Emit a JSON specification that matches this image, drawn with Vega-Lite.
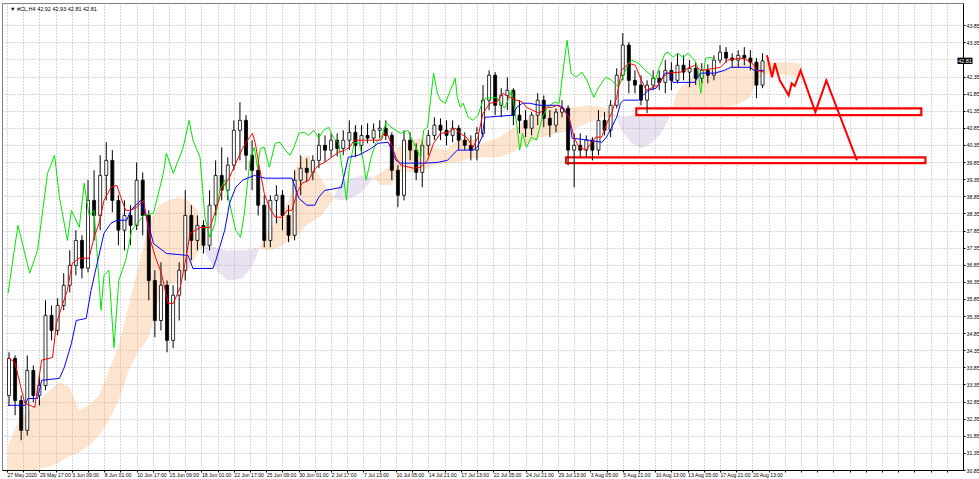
{
"$schema":"https://vega.github.io/schema/vega-lite/v6.json",
"width":961,"height":467,
"autosize":{"type":"none"},
"padding":{"left":2,"top":3,"right":16,"bottom":9},
"background":"white",
"config":{"view":{"stroke":"#808080"},"font":"Liberation Sans",
 "axis":{"grid":true,"gridDash":[1,2],"gridColor":"#b0b0b0","gridOpacity":1,"tickSize":2,"tickColor":"#000000","labelFontSize":5.3,"labelColor":"#000000","domainColor":"#000000","labelOverlap":false,"labelBound":false,"labelFlush":false,"title":null,"tickCount":200}},
"datasets":{
"candles":[
{"t":1,"o":33.03,"h":34.29,"l":32.74,"c":34.11},{"t":4,"o":34.11,"h":34.20,"l":32.45,"c":32.88},{"t":7,"o":32.88,"h":33.03,"l":31.72,"c":32.01},{"t":10,"o":32.01,"h":34.20,"l":31.86,"c":33.76},{"t":13,"o":33.76,"h":33.91,"l":32.83,"c":33.03},{"t":16,"o":33.03,"h":33.62,"l":32.74,"c":33.32},{"t":19,"o":33.32,"h":35.81,"l":33.18,"c":35.37},{"t":22,"o":35.37,"h":35.66,"l":34.64,"c":34.93},{"t":25,"o":34.93,"h":35.87,"l":34.79,"c":35.66},{"t":28,"o":35.66,"h":36.60,"l":35.52,"c":36.25},{"t":31,"o":36.25,"h":37.27,"l":36.04,"c":36.83},{"t":34,"o":36.83,"h":37.86,"l":36.54,"c":37.56},{"t":37,"o":37.56,"h":37.71,"l":36.45,"c":36.75},{"t":40,"o":36.75,"h":39.32,"l":36.63,"c":38.73},{"t":43,"o":38.73,"h":39.61,"l":37.56,"c":38.29},{"t":46,"o":38.29,"h":40.05,"l":37.86,"c":39.46},{"t":49,"o":39.46,"h":40.43,"l":38.73,"c":39.90},{"t":52,"o":39.90,"h":40.20,"l":38.38,"c":38.73},{"t":55,"o":38.73,"h":38.88,"l":37.42,"c":37.86},{"t":58,"o":37.86,"h":38.73,"l":37.27,"c":38.29},{"t":61,"o":38.29,"h":38.59,"l":37.42,"c":38.00},{"t":64,"o":38.00,"h":39.84,"l":37.86,"c":39.32},{"t":67,"o":39.32,"h":39.55,"l":37.71,"c":38.29},{"t":70,"o":38.29,"h":38.44,"l":35.81,"c":36.39},{"t":73,"o":36.39,"h":36.69,"l":34.73,"c":35.22},{"t":76,"o":35.22,"h":36.92,"l":34.93,"c":36.25},{"t":79,"o":36.25,"h":36.39,"l":34.29,"c":34.64},{"t":82,"o":34.64,"h":36.25,"l":34.41,"c":35.96},{"t":85,"o":35.96,"h":36.92,"l":35.22,"c":36.69},{"t":88,"o":36.69,"h":39.03,"l":36.39,"c":38.29},{"t":91,"o":38.29,"h":38.59,"l":36.98,"c":37.56},{"t":94,"o":37.56,"h":38.29,"l":37.27,"c":38.00},{"t":97,"o":38.00,"h":38.15,"l":37.18,"c":37.42},{"t":100,"o":37.42,"h":39.03,"l":37.27,"c":38.59},{"t":103,"o":38.59,"h":39.90,"l":38.29,"c":39.46},{"t":106,"o":39.46,"h":40.28,"l":38.73,"c":39.03},{"t":109,"o":39.03,"h":39.99,"l":38.73,"c":39.76},{"t":112,"o":39.76,"h":41.07,"l":39.61,"c":40.78},{"t":115,"o":40.78,"h":41.60,"l":39.90,"c":41.07},{"t":118,"o":41.07,"h":41.22,"l":39.61,"c":40.05},{"t":121,"o":40.05,"h":40.49,"l":39.03,"c":39.61},{"t":124,"o":39.61,"h":39.76,"l":38.29,"c":38.59},{"t":127,"o":38.59,"h":38.88,"l":37.36,"c":37.56},{"t":130,"o":37.56,"h":38.88,"l":37.36,"c":38.73},{"t":133,"o":38.73,"h":39.17,"l":38.06,"c":38.88},{"t":136,"o":38.88,"h":39.03,"l":37.86,"c":38.29},{"t":139,"o":38.29,"h":38.59,"l":37.51,"c":37.71},{"t":142,"o":37.71,"h":39.61,"l":37.56,"c":39.32},{"t":145,"o":39.32,"h":40.05,"l":38.88,"c":39.67},{"t":148,"o":39.67,"h":39.96,"l":39.26,"c":39.55},{"t":151,"o":39.55,"h":40.05,"l":39.32,"c":39.90},{"t":154,"o":39.90,"h":40.69,"l":39.67,"c":40.34},{"t":157,"o":40.34,"h":40.63,"l":39.84,"c":40.20},{"t":160,"o":40.20,"h":40.69,"l":39.99,"c":40.49},{"t":163,"o":40.49,"h":40.69,"l":40.02,"c":40.25},{"t":166,"o":40.25,"h":40.78,"l":40.05,"c":40.49},{"t":169,"o":40.49,"h":41.07,"l":40.20,"c":40.72},{"t":172,"o":40.72,"h":40.93,"l":39.99,"c":40.34},{"t":175,"o":40.34,"h":40.93,"l":40.05,"c":40.63},{"t":178,"o":40.63,"h":40.98,"l":40.40,"c":40.55},{"t":181,"o":40.55,"h":40.98,"l":40.40,"c":40.78},{"t":184,"o":40.78,"h":41.07,"l":40.55,"c":40.84},{"t":187,"o":40.84,"h":41.07,"l":40.49,"c":40.63},{"t":190,"o":40.63,"h":40.72,"l":39.32,"c":39.61},{"t":193,"o":39.61,"h":39.76,"l":38.53,"c":38.88},{"t":196,"o":38.88,"h":40.78,"l":38.73,"c":40.49},{"t":199,"o":40.49,"h":40.72,"l":39.90,"c":40.20},{"t":202,"o":40.20,"h":40.40,"l":39.32,"c":39.55},{"t":205,"o":39.55,"h":40.49,"l":39.11,"c":40.34},{"t":208,"o":40.34,"h":40.78,"l":40.05,"c":40.63},{"t":211,"o":40.63,"h":41.16,"l":40.49,"c":40.93},{"t":214,"o":40.93,"h":41.13,"l":40.49,"c":40.78},{"t":217,"o":40.78,"h":41.07,"l":40.34,"c":40.63},{"t":220,"o":40.63,"h":41.07,"l":40.43,"c":40.84},{"t":223,"o":40.84,"h":40.93,"l":40.20,"c":40.49},{"t":226,"o":40.49,"h":40.72,"l":40.20,"c":40.34},{"t":229,"o":40.34,"h":40.63,"l":39.90,"c":40.20},{"t":232,"o":40.20,"h":40.87,"l":39.90,"c":40.69},{"t":235,"o":40.69,"h":42.10,"l":40.58,"c":41.66},{"t":238,"o":41.66,"h":42.53,"l":41.37,"c":42.39},{"t":241,"o":42.39,"h":42.48,"l":41.22,"c":41.51},{"t":244,"o":41.51,"h":42.01,"l":41.16,"c":41.80},{"t":247,"o":41.80,"h":42.33,"l":41.37,"c":41.95},{"t":250,"o":41.95,"h":42.01,"l":40.93,"c":41.22},{"t":253,"o":41.22,"h":41.66,"l":40.69,"c":41.07},{"t":256,"o":41.07,"h":41.37,"l":40.58,"c":40.84},{"t":259,"o":40.84,"h":41.31,"l":40.63,"c":41.22},{"t":262,"o":41.22,"h":41.86,"l":40.93,"c":41.66},{"t":265,"o":41.66,"h":41.80,"l":40.87,"c":41.13},{"t":268,"o":41.13,"h":41.37,"l":40.58,"c":40.93},{"t":271,"o":40.93,"h":41.42,"l":40.72,"c":41.31},{"t":274,"o":41.31,"h":41.66,"l":41.16,"c":41.42},{"t":277,"o":41.42,"h":41.51,"l":39.76,"c":40.20},{"t":280,"o":40.20,"h":40.69,"l":39.11,"c":40.34},{"t":283,"o":40.34,"h":40.69,"l":39.99,"c":40.20},{"t":286,"o":40.20,"h":40.63,"l":39.99,"c":40.49},{"t":289,"o":40.49,"h":40.58,"l":39.90,"c":40.20},{"t":292,"o":40.20,"h":41.37,"l":40.05,"c":41.07},{"t":295,"o":41.07,"h":41.31,"l":40.63,"c":40.78},{"t":298,"o":40.78,"h":41.66,"l":40.58,"c":41.51},{"t":301,"o":41.51,"h":42.59,"l":41.42,"c":42.39},{"t":304,"o":42.39,"h":43.62,"l":42.24,"c":43.27},{"t":307,"o":43.27,"h":43.35,"l":41.86,"c":42.24},{"t":310,"o":42.24,"h":42.53,"l":41.86,"c":42.10},{"t":313,"o":42.10,"h":42.39,"l":41.51,"c":41.66},{"t":316,"o":41.66,"h":42.24,"l":41.28,"c":42.10},{"t":319,"o":42.10,"h":42.53,"l":41.95,"c":42.30},{"t":322,"o":42.30,"h":42.53,"l":41.95,"c":42.18},{"t":325,"o":42.18,"h":42.83,"l":41.86,"c":42.53},{"t":328,"o":42.53,"h":42.77,"l":41.95,"c":42.24},{"t":331,"o":42.24,"h":43.03,"l":42.15,"c":42.68},{"t":334,"o":42.68,"h":42.97,"l":42.24,"c":42.48},{"t":337,"o":42.48,"h":42.83,"l":42.04,"c":42.59},{"t":340,"o":42.59,"h":42.77,"l":42.10,"c":42.30},{"t":343,"o":42.30,"h":42.74,"l":42.15,"c":42.53},{"t":346,"o":42.53,"h":42.71,"l":42.15,"c":42.39},{"t":349,"o":42.39,"h":42.97,"l":42.24,"c":42.83},{"t":352,"o":42.83,"h":43.27,"l":42.74,"c":43.06},{"t":355,"o":43.06,"h":43.21,"l":42.74,"c":42.89},{"t":358,"o":42.89,"h":43.03,"l":42.62,"c":42.83},{"t":361,"o":42.83,"h":43.12,"l":42.62,"c":42.97},{"t":364,"o":42.97,"h":43.21,"l":42.68,"c":42.89},{"t":367,"o":42.89,"h":43.12,"l":42.53,"c":42.77},{"t":370,"o":42.77,"h":42.89,"l":41.72,"c":42.10},{"t":373,"o":42.10,"h":43.03,"l":42.01,"c":42.81}
],
"tenkan":[
{"t":0.5,"v":34.14},{"t":3.9,"v":33.99},{"t":8.8,"v":32.80},{"t":13.7,"v":32.68},{"t":17.1,"v":34.06},{"t":22.5,"v":34.14},{"t":24.4,"v":35.14},{"t":26.9,"v":35.60},{"t":29.8,"v":36.10},{"t":32.2,"v":36.89},{"t":35.7,"v":37.04},{"t":40.5,"v":37.04},{"t":43.0,"v":37.65},{"t":45.4,"v":38.06},{"t":47.9,"v":38.73},{"t":51.3,"v":39.11},{"t":54.2,"v":39.17},{"t":56.2,"v":38.82},{"t":58.6,"v":38.44},{"t":61.1,"v":38.44},{"t":64.0,"v":38.53},{"t":67.4,"v":38.73},{"t":70.8,"v":37.56},{"t":73.3,"v":37.07},{"t":76.2,"v":36.60},{"t":79.6,"v":35.72},{"t":82.1,"v":35.72},{"t":85.5,"v":36.19},{"t":87.9,"v":36.89},{"t":90.4,"v":37.77},{"t":93.3,"v":37.86},{"t":95.3,"v":37.94},{"t":100.2,"v":37.94},{"t":103.1,"v":38.44},{"t":106.5,"v":39.11},{"t":109.9,"v":39.41},{"t":112.9,"v":39.81},{"t":116.3,"v":40.25},{"t":119.7,"v":40.57},{"t":121.2,"v":40.69},{"t":122.6,"v":40.40},{"t":124.6,"v":39.70},{"t":127.0,"v":38.94},{"t":129.5,"v":38.53},{"t":132.4,"v":38.24},{"t":135.8,"v":38.24},{"t":138.3,"v":38.44},{"t":140.7,"v":38.44},{"t":143.1,"v":38.94},{"t":145.6,"v":39.23},{"t":149.0,"v":39.32},{"t":151.4,"v":39.61},{"t":153.9,"v":39.76},{"t":156.8,"v":39.84},{"t":160.2,"v":39.99},{"t":163.7,"v":40.14},{"t":166.6,"v":40.19},{"t":169.0,"v":40.28},{"t":171.5,"v":40.49},{"t":184.7,"v":40.49},{"t":186.1,"v":40.69},{"t":188.1,"v":40.63},{"t":189.6,"v":40.40},{"t":192.0,"v":39.99},{"t":194.4,"v":39.76},{"t":200.8,"v":39.67},{"t":204.2,"v":39.70},{"t":207.6,"v":39.90},{"t":210.6,"v":40.40},{"t":214.0,"v":40.69},{"t":217.9,"v":40.72},{"t":221.3,"v":40.84},{"t":223.8,"v":40.69},{"t":227.2,"v":40.55},{"t":230.1,"v":40.28},{"t":232.5,"v":40.58},{"t":235.0,"v":41.28},{"t":238.4,"v":41.57},{"t":241.8,"v":41.60},{"t":244.8,"v":41.86},{"t":248.2,"v":41.74},{"t":251.6,"v":41.66},{"t":254.5,"v":41.60},{"t":256.5,"v":41.45},{"t":259.4,"v":41.37},{"t":262.8,"v":41.28},{"t":266.3,"v":41.45},{"t":269.2,"v":41.45},{"t":271.6,"v":41.51},{"t":274.1,"v":41.42},{"t":277.5,"v":41.16},{"t":279.9,"v":40.58},{"t":282.4,"v":40.28},{"t":285.8,"v":40.20},{"t":290.7,"v":40.58},{"t":293.6,"v":40.58},{"t":296.1,"v":40.98},{"t":298.5,"v":41.28},{"t":301.0,"v":41.74},{"t":303.4,"v":42.53},{"t":306.8,"v":42.74},{"t":310.2,"v":42.68},{"t":313.2,"v":42.24},{"t":315.6,"v":41.95},{"t":318.0,"v":42.01},{"t":321.5,"v":42.10},{"t":323.9,"v":42.33},{"t":326.4,"v":42.45},{"t":332.7,"v":42.48},{"t":336.2,"v":42.59},{"t":339.5,"v":42.68},{"t":342.5,"v":42.53},{"t":349.4,"v":42.59},{"t":352.2,"v":42.62},{"t":355.7,"v":42.83},{"t":362.0,"v":42.89},{"t":365.4,"v":42.83},{"t":367.9,"v":42.74},{"t":370.3,"v":42.53},{"t":373.7,"v":42.48}
],
"kijun":[
{"t":0.5,"v":32.74},{"t":8.8,"v":32.74},{"t":10.3,"v":32.94},{"t":15.1,"v":32.94},{"t":17.1,"v":33.47},{"t":25.9,"v":33.53},{"t":28.3,"v":33.85},{"t":31.8,"v":34.55},{"t":34.2,"v":35.22},{"t":39.1,"v":35.28},{"t":41.5,"v":36.10},{"t":44.5,"v":36.89},{"t":47.9,"v":37.77},{"t":51.3,"v":38.06},{"t":54.2,"v":38.15},{"t":59.1,"v":38.15},{"t":61.1,"v":38.44},{"t":66.0,"v":38.73},{"t":68.9,"v":38.24},{"t":72.3,"v":37.47},{"t":78.7,"v":37.18},{"t":89.4,"v":37.12},{"t":91.8,"v":36.74},{"t":101.6,"v":36.74},{"t":103.1,"v":36.98},{"t":105.0,"v":37.36},{"t":107.5,"v":37.86},{"t":109.9,"v":38.65},{"t":112.9,"v":39.11},{"t":116.3,"v":39.32},{"t":122.1,"v":39.46},{"t":127.5,"v":39.38},{"t":140.7,"v":39.38},{"t":144.1,"v":38.79},{"t":148.0,"v":38.59},{"t":151.9,"v":38.59},{"t":153.9,"v":38.82},{"t":156.8,"v":39.02},{"t":165.1,"v":39.11},{"t":168.5,"v":39.99},{"t":173.4,"v":40.05},{"t":176.4,"v":40.14},{"t":179.8,"v":40.25},{"t":183.2,"v":40.40},{"t":188.1,"v":40.43},{"t":189.6,"v":40.25},{"t":192.0,"v":39.90},{"t":194.4,"v":39.82},{"t":205.7,"v":39.82},{"t":212.5,"v":39.84},{"t":217.4,"v":39.90},{"t":218.9,"v":39.99},{"t":222.3,"v":40.20},{"t":230.1,"v":40.20},{"t":232.1,"v":40.28},{"t":234.5,"v":40.58},{"t":236.0,"v":41.16},{"t":249.6,"v":41.22},{"t":251.6,"v":41.45},{"t":254.5,"v":41.57},{"t":257.9,"v":41.57},{"t":262.8,"v":41.51},{"t":272.6,"v":41.51},{"t":275.0,"v":41.42},{"t":277.5,"v":41.16},{"t":279.0,"v":40.55},{"t":287.3,"v":40.49},{"t":293.6,"v":40.43},{"t":295.6,"v":40.55},{"t":297.0,"v":40.69},{"t":298.5,"v":40.87},{"t":301.0,"v":41.16},{"t":302.9,"v":41.57},{"t":304.4,"v":41.66},{"t":311.7,"v":41.66},{"t":314.1,"v":41.80},{"t":316.6,"v":41.95},{"t":320.5,"v":42.01},{"t":322.9,"v":42.24},{"t":324.9,"v":42.45},{"t":327.3,"v":42.45},{"t":328.8,"v":42.18},{"t":339.5,"v":42.18},{"t":341.0,"v":42.33},{"t":342.5,"v":42.45},{"t":349.4,"v":42.45},{"t":354.2,"v":42.53},{"t":357.2,"v":42.62},{"t":366.9,"v":42.62},{"t":368.8,"v":42.53},{"t":373.7,"v":42.53}
],
"chikou":[
{"t":0.5,"v":36.01},{"t":5.4,"v":38.00},{"t":11.2,"v":36.60},{"t":15.1,"v":37.27},{"t":20.0,"v":39.52},{"t":23.5,"v":40.05},{"t":25.9,"v":38.82},{"t":29.8,"v":37.56},{"t":31.8,"v":38.44},{"t":35.7,"v":37.94},{"t":38.1,"v":39.23},{"t":40.5,"v":38.29},{"t":43.0,"v":38.44},{"t":46.4,"v":35.52},{"t":47.9,"v":36.54},{"t":50.3,"v":36.69},{"t":52.8,"v":34.43},{"t":55.2,"v":36.39},{"t":58.6,"v":36.98},{"t":61.6,"v":37.86},{"t":67.4,"v":38.29},{"t":72.3,"v":38.35},{"t":77.2,"v":39.52},{"t":78.7,"v":40.11},{"t":82.1,"v":39.52},{"t":87.0,"v":40.28},{"t":89.9,"v":41.07},{"t":91.8,"v":40.49},{"t":95.3,"v":39.99},{"t":97.7,"v":38.24},{"t":100.2,"v":37.65},{"t":102.6,"v":38.06},{"t":105.0,"v":39.02},{"t":107.5,"v":39.32},{"t":109.9,"v":38.65},{"t":112.9,"v":37.86},{"t":115.3,"v":37.65},{"t":117.2,"v":38.35},{"t":118.7,"v":39.23},{"t":120.2,"v":39.99},{"t":122.1,"v":40.28},{"t":123.6,"v":39.70},{"t":125.1,"v":40.25},{"t":127.0,"v":40.28},{"t":129.5,"v":39.70},{"t":132.4,"v":40.40},{"t":134.8,"v":40.43},{"t":137.3,"v":40.20},{"t":139.7,"v":40.05},{"t":141.7,"v":40.28},{"t":144.1,"v":40.69},{"t":146.6,"v":40.72},{"t":149.0,"v":40.63},{"t":151.4,"v":40.78},{"t":153.9,"v":40.55},{"t":156.3,"v":40.78},{"t":158.8,"v":40.87},{"t":161.2,"v":40.55},{"t":163.7,"v":40.40},{"t":166.1,"v":39.41},{"t":167.6,"v":38.73},{"t":169.0,"v":39.70},{"t":171.5,"v":40.43},{"t":173.9,"v":40.40},{"t":175.9,"v":39.90},{"t":177.3,"v":39.32},{"t":179.8,"v":39.99},{"t":182.2,"v":40.43},{"t":184.7,"v":40.55},{"t":187.1,"v":41.01},{"t":189.6,"v":40.87},{"t":192.0,"v":40.78},{"t":194.4,"v":40.69},{"t":197.9,"v":40.78},{"t":200.8,"v":40.40},{"t":204.2,"v":39.99},{"t":205.7,"v":40.78},{"t":207.6,"v":40.87},{"t":209.1,"v":41.66},{"t":210.6,"v":42.45},{"t":212.5,"v":41.86},{"t":214.0,"v":41.66},{"t":216.4,"v":41.57},{"t":218.9,"v":41.95},{"t":221.3,"v":42.30},{"t":222.3,"v":41.74},{"t":223.8,"v":41.45},{"t":225.2,"v":41.57},{"t":227.7,"v":41.16},{"t":230.1,"v":41.07},{"t":232.5,"v":41.22},{"t":235.0,"v":41.66},{"t":236.9,"v":41.74},{"t":238.4,"v":41.72},{"t":241.8,"v":41.74},{"t":245.7,"v":41.42},{"t":249.2,"v":41.95},{"t":251.6,"v":40.98},{"t":253.1,"v":40.20},{"t":254.5,"v":40.69},{"t":256.5,"v":40.28},{"t":258.9,"v":40.58},{"t":261.4,"v":40.49},{"t":264.3,"v":41.16},{"t":266.7,"v":41.45},{"t":270.2,"v":41.60},{"t":272.6,"v":41.57},{"t":275.0,"v":42.74},{"t":276.5,"v":43.41},{"t":278.5,"v":42.45},{"t":280.9,"v":42.33},{"t":283.8,"v":42.48},{"t":286.3,"v":42.24},{"t":289.7,"v":41.74},{"t":292.1,"v":42.04},{"t":295.6,"v":42.33},{"t":298.5,"v":42.24},{"t":301.9,"v":42.04},{"t":306.8,"v":42.74},{"t":308.3,"v":42.83},{"t":311.7,"v":42.74},{"t":315.1,"v":42.53},{"t":318.0,"v":42.39},{"t":320.0,"v":42.24},{"t":321.5,"v":42.53},{"t":324.9,"v":43.03},{"t":326.4,"v":43.06},{"t":328.8,"v":42.91},{"t":331.3,"v":43.03},{"t":333.7,"v":42.91},{"t":336.2,"v":43.03},{"t":339.5,"v":42.83},{"t":341.0,"v":42.62},{"t":342.5,"v":41.86},{"t":344.9,"v":42.89},{"t":347.4,"v":42.91},{"t":349.4,"v":42.83}
],
"cloud":[
{"g":"o1","k":"up","t":0.5,"a":31.57,"b":30.84},{"g":"o1","k":"up","t":6.4,"a":32.36,"b":30.84},{"g":"o1","k":"up","t":13.7,"a":32.74,"b":30.84},{"g":"o1","k":"up","t":21.0,"a":33.18,"b":30.95},{"g":"o1","k":"up","t":25.9,"a":33.41,"b":31.07},{"g":"o1","k":"up","t":30.8,"a":33.27,"b":31.25},{"g":"o1","k":"up","t":35.7,"a":32.59,"b":31.36},{"g":"o1","k":"up","t":40.5,"a":32.74,"b":31.57},{"g":"o1","k":"up","t":45.4,"a":33.03,"b":31.86},{"g":"o1","k":"up","t":50.3,"a":33.76,"b":32.30},{"g":"o1","k":"up","t":55.2,"a":34.49,"b":32.89},{"g":"o1","k":"up","t":60.1,"a":35.66,"b":33.76},{"g":"o1","k":"up","t":65.0,"a":36.83,"b":34.35},{"g":"o1","k":"up","t":69.9,"a":38.00,"b":34.70},{"g":"o1","k":"up","t":74.7,"a":38.59,"b":35.81},{"g":"o1","k":"up","t":79.6,"a":38.73,"b":36.25},{"g":"o1","k":"up","t":84.5,"a":38.82,"b":36.34},{"g":"o1","k":"up","t":89.4,"a":38.73,"b":36.69},{"g":"o1","k":"up","t":94.3,"a":38.44,"b":37.21},{"g":"o1","k":"up","t":96.7,"a":37.48,"b":37.39},
{"g":"p1","k":"dn","t":96.7,"a":37.45,"b":37.39},{"g":"p1","k":"dn","t":99.2,"a":37.42,"b":37.04},{"g":"p1","k":"dn","t":104.1,"a":37.33,"b":36.63},{"g":"p1","k":"dn","t":109.0,"a":37.27,"b":36.39},{"g":"p1","k":"dn","t":116.3,"a":37.27,"b":36.45},{"g":"p1","k":"dn","t":121.2,"a":37.30,"b":36.83},{"g":"p1","k":"dn","t":124.6,"a":37.36,"b":37.33},
{"g":"o2","k":"up","t":124.6,"a":37.36,"b":37.33},{"g":"o2","k":"up","t":129.5,"a":37.86,"b":37.27},{"g":"o2","k":"up","t":134.3,"a":38.24,"b":37.36},{"g":"o2","k":"up","t":139.2,"a":38.73,"b":37.56},{"g":"o2","k":"up","t":142.2,"a":39.61,"b":37.65},{"g":"o2","k":"up","t":145.6,"a":39.99,"b":37.86},{"g":"o2","k":"up","t":149.0,"a":40.05,"b":38.06},{"g":"o2","k":"up","t":151.9,"a":39.70,"b":38.15},{"g":"o2","k":"up","t":155.4,"a":39.32,"b":38.29},{"g":"o2","k":"up","t":158.8,"a":39.02,"b":38.59},{"g":"o2","k":"up","t":161.2,"a":38.82,"b":38.79},
{"g":"p2","k":"dn","t":161.2,"a":38.82,"b":38.79},{"g":"p2","k":"dn","t":165.1,"a":39.26,"b":38.73},{"g":"p2","k":"dn","t":170.0,"a":39.38,"b":38.79},{"g":"p2","k":"dn","t":174.9,"a":39.46,"b":38.97},{"g":"p2","k":"dn","t":180.8,"a":39.41,"b":39.38},
{"g":"o3","k":"up","t":180.8,"a":39.41,"b":39.38},{"g":"o3","k":"up","t":184.7,"a":39.55,"b":39.17},{"g":"o3","k":"up","t":189.6,"a":39.76,"b":39.17},{"g":"o3","k":"up","t":193.0,"a":40.28,"b":39.55},{"g":"o3","k":"up","t":199.3,"a":40.49,"b":39.55},{"g":"o3","k":"up","t":205.7,"a":40.58,"b":39.61},{"g":"o3","k":"up","t":210.6,"a":40.28,"b":39.76},{"g":"o3","k":"up","t":217.4,"a":40.20,"b":39.82},{"g":"o3","k":"up","t":222.3,"a":40.49,"b":39.84},{"g":"o3","k":"up","t":228.6,"a":40.55,"b":39.96},{"g":"o3","k":"up","t":235.0,"a":40.40,"b":39.99},{"g":"o3","k":"up","t":243.3,"a":40.58,"b":39.99},{"g":"o3","k":"up","t":248.2,"a":40.78,"b":40.11},{"g":"o3","k":"up","t":251.6,"a":40.87,"b":40.20},{"g":"o3","k":"up","t":257.9,"a":41.16,"b":40.43},{"g":"o3","k":"up","t":264.3,"a":41.37,"b":40.58},{"g":"o3","k":"up","t":274.1,"a":41.45,"b":40.72},{"g":"o3","k":"up","t":280.9,"a":41.45,"b":40.84},{"g":"o3","k":"up","t":287.3,"a":41.51,"b":41.01},{"g":"o3","k":"up","t":294.6,"a":41.45,"b":41.16},{"g":"o3","k":"up","t":301.0,"a":41.22,"b":41.16},
{"g":"p3","k":"dn","t":301.0,"a":41.22,"b":41.16},{"g":"p3","k":"dn","t":303.4,"a":41.19,"b":40.78},{"g":"p3","k":"dn","t":308.3,"a":41.22,"b":40.40},{"g":"p3","k":"dn","t":313.2,"a":41.25,"b":40.25},{"g":"p3","k":"dn","t":318.0,"a":41.31,"b":40.40},{"g":"p3","k":"dn","t":322.9,"a":41.37,"b":40.69},{"g":"p3","k":"dn","t":326.4,"a":41.42,"b":41.07},{"g":"p3","k":"dn","t":328.8,"a":41.45,"b":41.39},
{"g":"o4","k":"up","t":328.8,"a":41.45,"b":41.39},{"g":"o4","k":"up","t":329.8,"a":41.74,"b":41.37},{"g":"o4","k":"up","t":332.7,"a":42.04,"b":41.37},{"g":"o4","k":"up","t":336.2,"a":42.24,"b":41.45},{"g":"o4","k":"up","t":341.0,"a":42.45,"b":41.45},{"g":"o4","k":"up","t":345.9,"a":42.53,"b":41.45},{"g":"o4","k":"up","t":352.2,"a":42.53,"b":41.45},{"g":"o4","k":"up","t":357.2,"a":42.62,"b":41.48},{"g":"o4","k":"up","t":362.0,"a":42.74,"b":41.57},{"g":"o4","k":"up","t":366.9,"a":42.74,"b":41.74},{"g":"o4","k":"up","t":370.3,"a":42.74,"b":42.24},{"g":"o4","k":"up","t":373.7,"a":42.77,"b":42.39},{"g":"o4","k":"up","t":378.6,"a":42.77,"b":42.45},{"g":"o4","k":"up","t":385.0,"a":42.77,"b":42.39},{"g":"o4","k":"up","t":389.9,"a":42.74,"b":42.33},{"g":"o4","k":"up","t":392.3,"a":42.72,"b":42.33}
],
"zones":[
{"t1":310.7,"t2":451.4,"v1":41.42,"v2":41.22},
{"t1":276.0,"t2":453.4,"v1":39.99,"v2":39.82}
],
"path":[
{"t":375.2,"v":42.97},{"t":377.7,"v":42.33},{"t":379.1,"v":42.74},{"t":381.5,"v":42.24},{"t":385.0,"v":41.89},{"t":385.9,"v":41.80},{"t":387.4,"v":42.15},{"t":388.9,"v":42.07},{"t":391.8,"v":42.53},{"t":399.1,"v":41.31},{"t":404.5,"v":42.24},{"t":419.6,"v":39.90}
],
"header":[{"txt":"\u25bc #CL,H4  42.92 42.93 42.81 42.81"}],
"last":[{"p":42.81}]
},
"layer":[
{"data":{"name":"cloud"},
 "mark":{"type":"area","opacity":0.3,"interpolate":"linear"},
 "encoding":{
  "x":{"field":"t","type":"quantitative","title":null,"scale":{"domain":[0,469.5],"nice":false,"zero":false},
   "axis":{"values":[0,8,16,24,32,40,48,56,64,72,80,88,96,104,112,120,128,136,144,152,160,168,176,184,192,200,208,216,224,232,240,248,256,264,272,280,288,296,304,312,320,328,336,344,352,360,368,376,384,392,400,408,416,424,432,440,448,456,464],"tickCount":200,
    "labelExpr":"datum.value % 16 == 0 ? ['27 May 2020','29 May 17:00','3 Jun 09:00','8 Jun 01:00','10 Jun 17:00','15 Jun 09:00','18 Jun 01:00','22 Jun 17:00','25 Jun 09:00','30 Jun 01:00','2 Jul 17:00','7 Jul 13:00','10 Jul 05:00','14 Jul 21:00','17 Jul 13:00','22 Jul 05:00','24 Jul 21:00','29 Jul 13:00','3 Aug 05:00','5 Aug 21:00','10 Aug 13:00','13 Aug 05:00','17 Aug 21:00','20 Aug 13:00'][datum.value/16] : ''",
    "labelAlign":"left","labelPadding":0,"labelFontSize":5.1,"labelOverlap":false,"title":null}},
  "y":{"field":"a","type":"quantitative","title":null,"scale":{"domain":[30.85,44.5],"nice":false,"zero":false},
   "axis":{"orient":"right","values":[30.85,31.35,31.85,32.35,32.85,33.35,33.85,34.35,34.85,35.35,35.85,36.35,36.85,37.35,37.85,38.35,38.85,39.35,39.85,40.35,40.85,41.35,41.85,42.35,42.85,43.35,43.85],"tickCount":200,"labelExpr":"datum.value > 42.8 && datum.value < 42.9 ? '' : format(datum.value, '.2f')","labelPadding":1,"labelOverlap":false,"title":null}},
  "y2":{"field":"b"},
  "color":{"field":"k","type":"nominal","scale":{"domain":["up","dn"],"range":["#f4a460","#b99ad0"]},"legend":null},
  "detail":{"field":"g","type":"nominal"}
 }},
{"data":{"name":"zones"},
 "mark":{"type":"rect","fill":"#ffffff","stroke":"#ff0000","strokeWidth":2.2},
 "encoding":{
  "x":{"field":"t1","type":"quantitative","title":null,"scale":{"domain":[0,469.5],"nice":false,"zero":false}},
  "x2":{"field":"t2"},
  "y":{"field":"v1","type":"quantitative","title":null,"scale":{"domain":[30.85,44.5],"nice":false,"zero":false}},
  "y2":{"field":"v2"}
 }},
{"data":{"name":"candles"},
 "mark":{"type":"rule","color":"#000000","strokeWidth":1},
 "encoding":{
  "x":{"field":"t","type":"quantitative","title":null,"scale":{"domain":[0,469.5],"nice":false,"zero":false}},
  "y":{"field":"l","type":"quantitative","title":null,"scale":{"domain":[30.85,44.5],"nice":false,"zero":false}},
  "y2":{"field":"h"}
 }},
{"data":{"name":"candles"},
 "mark":{"type":"bar","size":3,"stroke":"#000000","strokeWidth":0.8},
 "encoding":{
  "x":{"field":"t","type":"quantitative","title":null,"scale":{"domain":[0,469.5],"nice":false,"zero":false}},
  "y":{"field":"o","type":"quantitative","title":null,"scale":{"domain":[30.85,44.5],"nice":false,"zero":false}},
  "y2":{"field":"c"},
  "fill":{"condition":{"test":"datum.c >= datum.o","value":"#ffffff"},"value":"#000000"}
 }},
{"data":{"name":"chikou"},
 "mark":{"type":"line","color":"#00e600","strokeWidth":1},
 "encoding":{
  "x":{"field":"t","type":"quantitative","title":null,"scale":{"domain":[0,469.5],"nice":false,"zero":false}},
  "y":{"field":"v","type":"quantitative","title":null,"scale":{"domain":[30.85,44.5],"nice":false,"zero":false}}
 }},
{"data":{"name":"kijun"},
 "mark":{"type":"line","color":"#0000ff","strokeWidth":1},
 "encoding":{
  "x":{"field":"t","type":"quantitative","title":null,"scale":{"domain":[0,469.5],"nice":false,"zero":false}},
  "y":{"field":"v","type":"quantitative","title":null,"scale":{"domain":[30.85,44.5],"nice":false,"zero":false}}
 }},
{"data":{"name":"tenkan"},
 "mark":{"type":"line","color":"#ff0000","strokeWidth":1},
 "encoding":{
  "x":{"field":"t","type":"quantitative","title":null,"scale":{"domain":[0,469.5],"nice":false,"zero":false}},
  "y":{"field":"v","type":"quantitative","title":null,"scale":{"domain":[30.85,44.5],"nice":false,"zero":false}}
 }},
{"data":{"name":"path"},
 "mark":{"type":"line","color":"#ff0000","strokeWidth":2},
 "encoding":{
  "x":{"field":"t","type":"quantitative","title":null,"scale":{"domain":[0,469.5],"nice":false,"zero":false}},
  "y":{"field":"v","type":"quantitative","title":null,"scale":{"domain":[30.85,44.5],"nice":false,"zero":false}}
 }},
{"data":{"name":"header"},
 "mark":{"type":"text","align":"left","baseline":"top","dx":3,"dy":4,"fontSize":5.5,"color":"#000000"},
 "encoding":{
  "x":{"datum":0,"type":"quantitative"},
  "y":{"datum":44.5,"type":"quantitative"},
  "text":{"field":"txt"}
 }},
{"data":{"name":"last"},
 "mark":{"type":"point","shape":"M-1,-0.42H1V0.42H-1Z","size":225,"filled":true,"color":"#000000","opacity":1,"xOffset":7},
 "encoding":{
  "x":{"datum":469.5,"type":"quantitative"},
  "y":{"field":"p","type":"quantitative"}
 }},
{"data":{"name":"last"},
 "mark":{"type":"text","align":"center","baseline":"middle","dx":7,"fontSize":5.5,"color":"#ffffff"},
 "encoding":{
  "x":{"datum":469.5,"type":"quantitative"},
  "y":{"field":"p","type":"quantitative"},
  "text":{"field":"p","type":"quantitative","format":".2f"}
 }},
{"mark":{"type":"rule","color":"#2b2b2b","strokeWidth":3,"yOffset":-1.5},
 "encoding":{"y":{"datum":44.5,"type":"quantitative"}}}
]
}
